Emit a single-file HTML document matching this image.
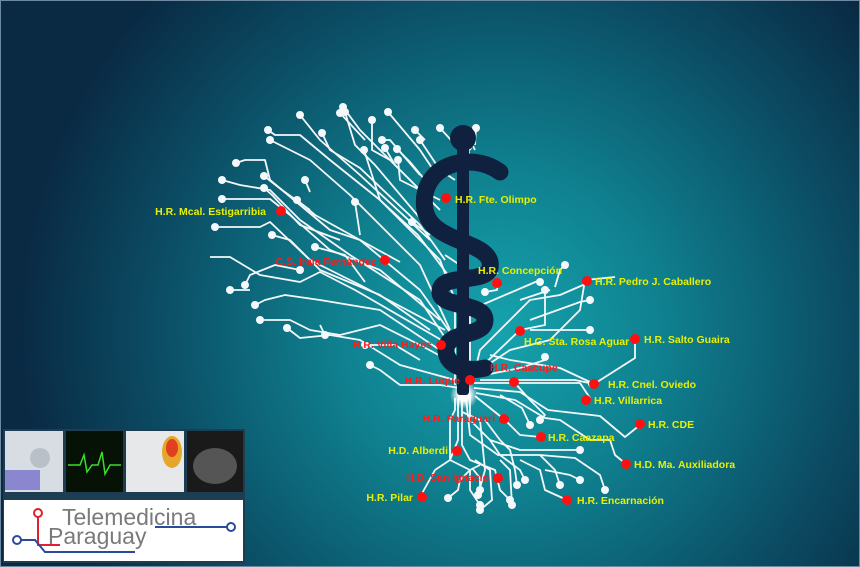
<!DOCTYPE html>
<html><head><meta charset="utf-8"><style>
html,body{margin:0;padding:0;width:860px;height:567px;overflow:hidden;background:#0b2a40}
svg{display:block}
text{font-family:"Liberation Sans",sans-serif;font-size:10.5px;font-weight:bold}
.y{fill:#e8f000}.r{fill:#ff1a1a}
</style></head><body>
<svg width="860" height="567" viewBox="0 0 860 567" xmlns="http://www.w3.org/2000/svg">
<defs>
<radialGradient id="bg" cx="500" cy="330" r="480" gradientUnits="userSpaceOnUse">
<stop offset="0" stop-color="#15a3ad"/><stop offset="0.35" stop-color="#0f7f8e"/><stop offset="0.7" stop-color="#0b4f66"/><stop offset="1" stop-color="#0a2a44"/></radialGradient>
<radialGradient id="glow" cx="0.5" cy="0.5" r="0.5"><stop offset="0.4" stop-color="#fff"/><stop offset="1" stop-color="#fff" stop-opacity="0"/></radialGradient>
</defs>
<rect width="860" height="567" fill="url(#bg)"/>
<rect x="0.5" y="0.5" width="859" height="566" fill="none" stroke="#6f8aa0" stroke-width="1"/>
<g fill="none" stroke="#f4f8fa" stroke-width="1.8" stroke-linejoin="round">
<polyline points="268,130 275,135 300,135 330,160 380,200 440,260 455,300 455,385"/>
<polyline points="270,140 280,145 310,160 350,195 420,265 450,330"/>
<polyline points="300,115 320,140 360,175 430,240"/>
<polyline points="322,133 330,150 360,168 420,225 445,260"/>
<polyline points="345,112 355,145 375,165 430,230"/>
<polyline points="372,120 372,150 390,160 440,210"/>
<polyline points="340,113 365,140"/>
<polyline points="385,148 395,165"/>
<polyline points="343,107 360,130 420,190"/>
<polyline points="398,160 400,180 420,190 440,200"/>
<polyline points="388,112 420,150 440,180"/>
<polyline points="415,130 425,140"/>
<polyline points="382,140 390,140 420,175"/>
<polyline points="236,163 245,160 265,160 270,180 330,230 360,240 420,290 452,335"/>
<polyline points="222,180 240,185 270,190 300,220 350,255 420,300 450,345"/>
<polyline points="222,199 270,199 290,215 330,250 380,270 440,320"/>
<polyline points="215,227 260,227 270,222 310,260 360,285 445,330"/>
<polyline points="264,176 282,190 310,210"/>
<polyline points="264,188 272,195 300,225 340,240"/>
<polyline points="272,235 290,240 320,270 380,295 430,330"/>
<polyline points="297,200 315,215 360,240 400,262"/>
<polyline points="305,180 310,192"/>
<polyline points="355,202 360,235"/>
<polyline points="315,247 345,255 365,282"/>
<polyline points="210,257 230,257 260,275 300,282 320,272 355,290 450,345"/>
<polyline points="245,285 250,275 275,265 300,270"/>
<polyline points="230,290 250,290"/>
<polyline points="255,305 265,300 285,295 320,300 380,310 440,350"/>
<polyline points="260,320 290,320 310,330 340,335 380,325 420,345 448,360"/>
<polyline points="320,325 325,335"/>
<polyline points="287,328 300,338 330,335 360,340 400,365 455,380"/>
<polyline points="365,345 395,345 420,360"/>
<polyline points="370,365 380,370 400,385 440,385 460,388"/>
<polyline points="364,150 380,200 418,235 448,275"/>
<polyline points="420,140 440,170 455,180"/>
<polyline points="397,149 410,162 425,180"/>
<polyline points="440,235 455,235"/>
<polyline points="412,222 430,235"/>
<polyline points="445,255 460,265"/>
<polyline points="460,133 470,140 475,150"/>
<polyline points="440,128 460,150"/>
<polyline points="476,128 475,145"/>
<polyline points="468,147 470,160"/>
<polyline points="498,283 497,290 485,292"/>
<polyline points="480,273 485,280"/>
<polyline points="470,380 470,310 540,280 540,282"/>
<polyline points="474,375 480,350 530,300 560,295 590,282"/>
<polyline points="478,370 520,330 545,325 545,290"/>
<polyline points="480,370 510,350 550,340 580,310 585,280 615,277"/>
<polyline points="520,300 550,290"/>
<polyline points="530,320 580,302 590,300"/>
<polyline points="530,330 580,330 590,330"/>
<polyline points="555,287 560,270 565,265"/>
<polyline points="480,380 575,380 594,384 635,358 635,340"/>
<polyline points="480,376 520,368 545,360 545,357"/>
<polyline points="490,355 510,360 560,368 590,382"/>
<polyline points="474,383 580,383 590,398"/>
<polyline points="474,388 520,392 548,410 600,416 625,437 640,425"/>
<polyline points="476,393 515,400 545,418 560,420 590,440 610,440 615,455 626,464"/>
<polyline points="514,382 530,400 545,415 540,420"/>
<polyline points="500,395 522,408 530,425"/>
<polyline points="475,396 505,420 520,435 541,437"/>
<polyline points="470,396 470,420 490,440 520,450 550,450 580,450"/>
<polyline points="466,398 470,435 498,455 540,455 575,458 600,475 605,490"/>
<polyline points="462,398 462,445 470,460 495,470 500,490 510,500"/>
<polyline points="458,398 458,440 450,460 470,470 470,490 480,505"/>
<polyline points="455,398 455,410 450,420 450,460 435,470 420,497"/>
<polyline points="462,412 480,420 485,470 478,495"/>
<polyline points="485,420 500,440 510,450 515,470 517,485"/>
<polyline points="540,455 555,470 560,485"/>
<polyline points="520,460 540,470 545,490 567,500"/>
<polyline points="490,440 500,455 520,470 525,480"/>
<polyline points="475,460 490,470 492,500 480,510"/>
<polyline points="500,460 510,470 512,505"/>
<polyline points="480,465 470,470 460,480 458,490 448,498"/>
<polyline points="472,468 480,478 480,490"/>
<polyline points="545,470 570,475 580,480"/>
</g>
<g fill="#f4f8fa">
<circle cx="268" cy="130" r="4"/><circle cx="270" cy="140" r="4"/><circle cx="300" cy="115" r="4"/><circle cx="322" cy="133" r="4"/><circle cx="345" cy="112" r="4"/><circle cx="372" cy="120" r="4"/><circle cx="340" cy="113" r="4"/><circle cx="385" cy="148" r="4"/><circle cx="343" cy="107" r="4"/><circle cx="398" cy="160" r="4"/><circle cx="388" cy="112" r="4"/><circle cx="415" cy="130" r="4"/><circle cx="382" cy="140" r="4"/><circle cx="236" cy="163" r="4"/><circle cx="222" cy="180" r="4"/><circle cx="222" cy="199" r="4"/><circle cx="215" cy="227" r="4"/><circle cx="264" cy="176" r="4"/><circle cx="264" cy="188" r="4"/><circle cx="272" cy="235" r="4"/><circle cx="297" cy="200" r="4"/><circle cx="305" cy="180" r="4"/><circle cx="355" cy="202" r="4"/><circle cx="315" cy="247" r="4"/><circle cx="245" cy="285" r="4"/><circle cx="300" cy="270" r="4"/><circle cx="230" cy="290" r="4"/><circle cx="255" cy="305" r="4"/><circle cx="260" cy="320" r="4"/><circle cx="325" cy="335" r="4"/><circle cx="287" cy="328" r="4"/><circle cx="365" cy="345" r="4"/><circle cx="370" cy="365" r="4"/><circle cx="364" cy="150" r="4"/><circle cx="420" cy="140" r="4"/><circle cx="397" cy="149" r="4"/><circle cx="412" cy="222" r="4"/><circle cx="440" cy="128" r="4"/><circle cx="460" cy="133" r="4"/><circle cx="476" cy="128" r="4"/><circle cx="468" cy="147" r="4"/><circle cx="480" cy="273" r="4"/><circle cx="485" cy="292" r="4"/><circle cx="540" cy="282" r="4"/><circle cx="565" cy="265" r="4"/><circle cx="545" cy="290" r="4"/><circle cx="590" cy="300" r="4"/><circle cx="590" cy="330" r="4"/><circle cx="545" cy="357" r="4"/><circle cx="540" cy="420" r="4"/><circle cx="530" cy="425" r="4"/><circle cx="580" cy="450" r="4"/><circle cx="605" cy="490" r="4"/><circle cx="510" cy="500" r="4"/><circle cx="480" cy="505" r="4"/><circle cx="478" cy="495" r="4"/><circle cx="517" cy="485" r="4"/><circle cx="560" cy="485" r="4"/><circle cx="525" cy="480" r="4"/><circle cx="480" cy="510" r="4"/><circle cx="512" cy="505" r="4"/><circle cx="448" cy="498" r="4"/><circle cx="480" cy="490" r="4"/><circle cx="580" cy="480" r="4"/><circle cx="591" cy="384" r="3"/>
</g>
<circle cx="464" cy="395" r="14" fill="url(#glow)"/>
<!-- staff and snake -->
<g fill="#10203f" stroke="none">
<rect x="457" y="140" width="12" height="255" rx="3"/>
<circle cx="463" cy="138" r="13"/>
</g>
<path d="M500 172 C470 150,418 165,425 210 C432 245,495 240,490 268 C486 285,440 272,440 292 C440 308,485 302,485 320 C485 338,446 330,446 350 C446 368,470 372,485 368" fill="none" stroke="#10203f" stroke-width="17" stroke-linecap="round"/>
<!-- dots -->
<g fill="#ff1010">
<circle cx="446" cy="198" r="5"/><circle cx="281" cy="211" r="5"/><circle cx="385" cy="260" r="5"/><circle cx="497" cy="283" r="5"/><circle cx="587" cy="281" r="5"/><circle cx="520" cy="331" r="5"/><circle cx="635" cy="339" r="5"/><circle cx="441" cy="345" r="5"/><circle cx="514" cy="382" r="5"/><circle cx="470" cy="380" r="5"/><circle cx="594" cy="384" r="5"/><circle cx="586" cy="400" r="5"/><circle cx="504" cy="419" r="5"/><circle cx="640" cy="424" r="5"/><circle cx="541" cy="437" r="5"/><circle cx="457" cy="451" r="5"/><circle cx="626" cy="464" r="5"/><circle cx="498" cy="478" r="5"/><circle cx="422" cy="497" r="5"/><circle cx="567" cy="500" r="5"/>
</g>
<g>
<text class="y" x="455" y="203">H.R. Fte. Olimpo</text>
<text class="y" x="266" y="215" text-anchor="end">H.R. Mcal. Estigarribia</text>
<text class="r" x="376" y="265" text-anchor="end">C.S. Irala Fernández</text>
<text class="y" x="478" y="274">H.R. Concepción</text>
<text class="y" x="595" y="285">H.R. Pedro J. Caballero</text>
<text class="y" x="524" y="345">H.G. Sta. Rosa Aguar</text>
<text class="y" x="644" y="343">H.R. Salto Guaira</text>
<text class="r" x="432" y="348" text-anchor="end">H.R. Villa Hayes</text>
<text class="r" x="490" y="371">H.R. Caacupe</text>
<text class="r" x="460" y="384" text-anchor="end">H.R. Luque</text>
<text class="y" x="608" y="388">H.R. Cnel. Oviedo</text>
<text class="y" x="594" y="404">H.R. Villarrica</text>
<text class="r" x="495" y="422" text-anchor="end">H.R. Paraguarí</text>
<text class="y" x="648" y="428">H.R. CDE</text>
<text class="y" x="548" y="441">H.R. Caazapa</text>
<text class="y" x="448" y="454" text-anchor="end">H.D. Alberdi</text>
<text class="y" x="634" y="468">H.D. Ma. Auxiliadora</text>
<text class="r" x="489" y="481" text-anchor="end">H.D. San Ignacio</text>
<text class="y" x="413" y="501" text-anchor="end">H.R. Pilar</text>
<text class="y" x="577" y="504">H.R. Encarnación</text>
</g>
<!-- bottom-left panel -->
<rect x="3" y="429" width="242" height="134" fill="#1d3e52"/>
<rect x="5" y="431" width="58" height="61" fill="#d8dde4"/>
<rect x="5" y="470" width="35" height="20" fill="#8a86d0"/>
<circle cx="40" cy="458" r="10" fill="#b9c0c8"/>
<rect x="66" y="431" width="57" height="61" fill="#061206"/>
<polyline points="68,465 80,465 84,455 87,472 92,465 98,465 102,452 105,474 110,465 121,465" fill="none" stroke="#3bdc2a" stroke-width="1.5"/>
<rect x="126" y="431" width="58" height="61" fill="#e6e8ea"/>
<ellipse cx="172" cy="452" rx="10" ry="16" fill="#e5a62a"/>
<ellipse cx="172" cy="448" rx="6" ry="9" fill="#e04020"/>
<rect x="187" y="431" width="56" height="61" fill="#1a1a1a"/>
<ellipse cx="215" cy="466" rx="22" ry="18" fill="#555"/>
<rect x="4" y="500" width="239" height="61" fill="#fff"/>
<polyline points="38,515 38,545 60,545" fill="none" stroke="#e02030" stroke-width="2"/>
<circle cx="38" cy="513" r="4" fill="#fff" stroke="#e02030" stroke-width="2"/>
<polyline points="19,540 35,540 45,552 135,552" fill="none" stroke="#2a4aa0" stroke-width="2"/>
<circle cx="17" cy="540" r="4" fill="#fff" stroke="#2a4aa0" stroke-width="2"/>
<polyline points="155,527 228,527" fill="none" stroke="#2a4aa0" stroke-width="2"/>
<circle cx="231" cy="527" r="4" fill="#fff" stroke="#2a4aa0" stroke-width="2"/>
<text x="62" y="525" style="font-size:23px;font-weight:normal;fill:#7a7a7a">Telemedicina</text>
<text x="48" y="544" style="font-size:23px;font-weight:normal;fill:#7a7a7a">Paraguay</text>
</svg>
</body></html>
